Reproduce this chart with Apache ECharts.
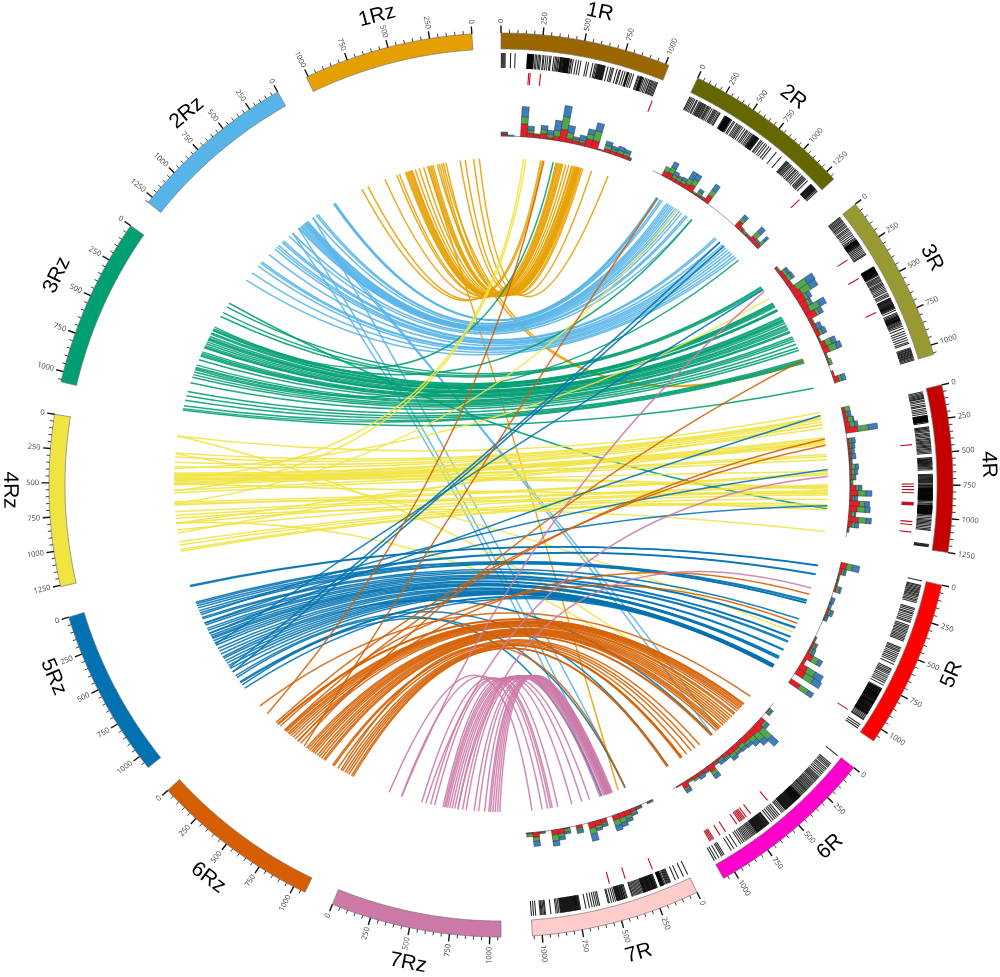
<!DOCTYPE html>
<html><head><meta charset="utf-8">
<style>html,body{margin:0;padding:0;background:#fff}#c{width:1000px;height:977px}</style>
<script src="https://cdn.jsdelivr.net/npm/echarts@6/dist/echarts.min.js"></script>
</head><body><div id="c"></div>
<script>
// ---------- data ----------
const sectorNames = ['1R','2R','3R','4R','5R','6R','7R','1Rz','2Rz','3Rz','4Rz','5Rz','6Rz','7Rz'];
const sectorLengths = [1020,1330,1060,1250,1090,1080,1060,1010,1300,1065,1260,1090,1080,1070];
const tickLabels = [0,250,500,750,1000,1250];

const bar1 = [2,8,14,20,26,60,88,165,170,174,178,183,188,192,198,204,214,222,232,240,248,262,268,280,292,305,312,330,340,348,356,362,370,376,384,392,398,404,410,416,422,428,436,442,452,470,485,500,535,548,575,590,598,606,614,622,630,638,646,654,672,690,700,708,730,745,752,768,782,796,803,815,825,838,866,872,880,888,894,905,915,925,935,945,950,958,965,972,980,988,995];
const bar2 = [10,20,30,42,55,70,78,95,105,113,120,128,135,145,152,160,172,180,188,200,215,230,240,248,258,270,282,290,335,342,348,354,360,366,372,378,385,392,400,418,430,450,462,475,485,495,510,530,548,560,575,590,600,612,624,634,642,650,658,668,690,700,715,735,752,775,795,850,905,960,968,976,985,995,1005,1015,1030,1045,1060,1070,1085,1100,1115,1135,1145,1155,1165,1175,1195,1235,1245,1255,1262,1270,1280,1290,1300,1312];
const bar3 = [5,12,20,28,36,45,55,62,72,80,92,100,110,122,132,145,158,170,178,185,190,196,202,208,214,222,232,242,252,262,272,282,292,300,395,400,405,410,416,422,428,434,440,446,452,458,468,476,484,492,500,510,518,526,535,545,555,565,575,590,600,610,625,632,640,650,660,668,675,682,690,700,712,730,738,746,752,760,768,774,780,788,795,802,808,815,825,840,860,875,890,905,920,935,945,975,982,988,994,1000,1006,1012,1018,1024,1030,1036,1042,1050,1058];
const bar4 = [20,30,40,48,56,64,72,85,95,110,125,135,150,162,175,190,205,212,218,224,230,236,242,248,254,262,296,304,312,322,332,344,352,362,372,384,392,402,410,418,426,436,444,452,462,470,480,490,500,535,542,548,554,560,566,572,578,586,594,602,612,620,630,665,672,678,684,690,698,704,712,720,728,738,746,752,758,764,770,776,782,788,794,800,808,814,820,826,832,838,844,850,856,862,870,880,890,898,906,912,918,924,930,936,942,948,954,960,966,972,980,990,1002,1014,1024,1034,1044,1054,1066,1078,1090,1100,1210,1216,1222,1228];
const bar5 = [2,32,40,48,56,64,72,80,88,96,104,112,122,132,142,152,192,200,212,224,232,244,256,268,280,290,312,322,332,342,352,362,372,382,392,402,412,422,470,480,490,500,512,524,536,548,560,572,590,625,635,645,655,665,678,690,702,714,728,745,770,776,782,788,794,800,808,814,820,826,832,838,844,850,858,866,874,880,886,892,900,908,916,922,928,936,944,952,958,964,972,980,988,996,1004,1010,1050,1064,1078];
const bar6 = [5,75,85,95,105,118,128,140,152,165,178,190,198,206,214,222,230,240,250,258,266,274,282,290,298,306,312,318,326,334,342,350,358,366,372,378,384,390,396,402,408,414,420,428,436,444,452,460,468,476,484,492,500,510,520,530,552,565,578,590,605,620,640,650,660,668,676,684,692,700,708,716,724,732,740,748,756,764,772,780,790,800,810,820,830,842,856,870,900,925,945,1000,1010,1020,1040,1060,1075];
const bar7 = [5,35,69,92,126,132,138,144,150,156,165,172,178,184,190,195,218,224,232,240,246,254,262,270,276,284,292,300,306,314,322,330,338,346,354,362,370,378,386,391,425,432,440,448,456,462,470,478,486,494,504,516,530,545,552,610,620,632,645,660,678,701,736,742,750,758,764,772,780,788,796,804,812,820,828,836,844,852,860,868,878,888,897,931,966,972,980,988,994,1000,1030,1044,1058];
// extra lines inside the darkest stretches of each barcode
const dark1 = [167,172,176,181,185,190,195,201,373,380,387,395,401,407,413,419,425,610,618,626,634,642,650,798,805,884,891,898];
const dark2 = [345,351,357,363,369,375,381,388,618,628,638,645,654,662,1240,1250,1260,1275,1285];
const dark3 = [190,193,199,205,211,217,225,398,403,408,413,419,425,431,437,443,449,628,636,645,655,664,672,678,686,694,755,763,772,778,784];
const dark4 = [208,215,221,227,233,239,245,251,773,779,785,791,797,803,811,817,823,829,835,841,847,853,859,866,910,915,921,927,933,939,945,951,957,963,969,975];
const dark5 = [780,785,790,797,803,810,817,823,829,835,841,847,854,861,869,877,883,889,896,904,912,919,925,932,940,948,955,961,968];
const dark6 = [368,375,381,387,393,399,405,411,417,424,432,440,448,456,464,472,480,488,496,645,655,664,672,680,688,696,704,712,720,728,736];
const dark7 = [175,181,187,193,228,236,243,250,258,266,273,280,288,296,303,310,440,452,466,474,482,490,745,754,761,768,776,784,792,800,808,816,824,832,840,848,856,864];

const red1 = [180,190,257,1005];
const red2 = [1262];
const red3 = [265,412,672];
const red4 = [420,740,760,785,810,890,895,900,905,910,1045,1070,1130];
const red5 = [1010];
const red6 = [550,698,735,750,760,770,780,790,817,910,955,1005,1015,1025,1035];
const red7 = [205,400,512];

// per 50-unit bin: [red, green, blue]
const hist1 = [[2,1,1],[0,0,1],[0,0,0],[13,7,10],[4,3,4],[3,1,0],[5,4,4],[2,3,4],[4,6,10],[12,13,11],[4,6,7],[3,2,2],[3,2,5],[8,5,5],[8,10,8],[1,0,0],[3,4,4],[3,2,3],[3,3,4],[3,3,3],[1,1,1]];
const hist2 = [[0,0,0],[0,0,0],[5,5,0],[6,6,6],[3,3,4],[3,3,2],[3,3,3],[5,6,8],[7,6,6],[1,1,0],[2,3,3],[1,1,1],[8,6,7],[0,0,0],[0,0,0],[0,0,0],[0,0,0],[0,0,0],[0,0,0],[0,0,0],[7,4,4],[3,1,0],[1,2,0],[2,1,0],[5,7,6],[3,1,2],[4,6,5]];
const hist3 = [[2,1,0],[4,3,3],[4,4,3],[4,1,0],[6,12,9],[8,10,8],[8,3,4],[7,3,2],[6,11,7],[10,3,4],[3,1,0],[3,1,5],[4,3,4],[1,1,0],[5,6,5],[6,8,5],[1,1,0],[1,3,0],[0,0,0],[2,0,0],[5,3,4]];
const hist4 = [[3,5,0],[3,2,3],[4,5,1],[5,5,3],[12,11,9],[0,0,0],[2,2,4],[2,2,3],[2,1,3],[2,1,4],[1,1,1],[2,4,3],[2,3,3],[2,2,2],[1,2,0],[6,3,3],[8,8,6],[3,2,3],[10,5,5],[8,8,5],[3,3,1],[10,8,5],[4,3,4],[1,1,0],[0,0,0]];
const hist5 = [[6,6,7],[3,2,2],[1,1,0],[1,1,0],[2,3,2],[0,0,0],[0,1,3],[0,1,2],[2,2,3],[1,1,2],[0,0,0],[0,0,0],[0,0,0],[1,1,0],[2,2,2],[2,2,3],[7,7,4],[3,0,0],[8,9,9],[9,10,9],[0,0,0],[11,10,6]];
const hist6 = [[0,0,0],[1,2,2],[0,0,0],[5,3,3],[8,12,9],[7,8,6],[6,5,5],[6,3,3],[4,4,3],[5,3,2],[5,4,3],[3,1,3],[2,2,3],[2,1,1],[7,4,4],[3,1,1],[3,1,3],[3,2,0],[2,1,0],[6,2,3],[1,0,0]];
const hist7 = [[1,1,0],[0,0,0],[1,1,1],[3,2,2],[5,3,3],[5,5,4],[5,6,5],[0,0,0],[4,2,2],[5,3,2],[6,6,7],[0,0,0],[3,2,3],[0,0,0],[1,3,2],[5,3,3],[5,6,5],[0,0,0],[1,1,0],[5,4,5],[1,3,0]];

// links: [position on nR, position on nRz]
const links1 = [[327,996],[340,941],[455,792],[462,690],[468,667],[480,616],[491,605],[500,595],[510,585],[535,575],[560,565],[585,560],[590,533],[604,500],[612,463],[620,422],[627,410],[630,398],[636,385],[642,333],[648,315],[655,278],[665,162],[678,120],[753,51],[894,5]];
const links2 = [[160,54],[170,62],[180,72],[210,270],[230,290],[290,335],[310,400],[330,415],[350,430],[370,445],[395,460],[420,475],[450,490],[480,505],[530,520],[550,600],[610,647],[930,725],[950,745],[1000,796],[1040,820],[1065,850],[1090,934],[1120,1042],[1150,1060],[1180,1100],[1213,1197],[1240,1293]];
const links3 = [[54,98],[65,156],[78,195],[226,317],[235,330],[245,356],[255,368],[265,390],[294,406],[305,425],[368,442],[380,459],[395,477],[412,498],[430,536],[450,552],[476,576],[490,610],[510,659],[564,689],[580,722],[600,746],[633,770],[667,819],[690,898],[775,937],[785,976],[795,1024],[810,1050],[1040,1062],[300,415],[460,565],[520,680],[400,490]];
const links4 = [[0,23],[46,195],[60,235],[75,286],[100,332],[128,395],[163,410],[262,425],[280,440],[300,455],[320,470],[337,485],[436,500],[455,515],[488,567],[610,595],[625,687],[640,716],[744,785],[760,820],[775,410],[790,460],[805,899],[820,968],[835,500],[849,1088],[897,1122],[950,1168],[970,1185],[1000,700],[1225,850],[300,900],[128,1000]];
const links5 = [[70,45],[75,55],[150,201],[155,215],[392,235],[400,255],[417,281],[420,301],[573,347],[653,360],[660,402],[744,420],[750,452],[789,470],[800,500],[874,523],[880,540],[945,553],[950,575],[960,598],[965,620],[1030,653],[1035,680],[1040,709],[1045,754],[1050,780],[1052,804],[1055,830],[1055,860],[1040,894],[1035,1005],[1048,1015],[1055,1075]];
const links6 = [[79,0],[163,218],[170,225],[185,307],[200,320],[213,340],[230,356],[250,375],[277,396],[290,420],[317,450],[340,545],[360,560],[381,580],[400,599],[421,615],[450,634],[465,660],[480,680],[500,703],[550,725],[560,738],[688,817],[738,830],[777,870],[827,916],[876,940],[890,980],[1020,1005],[1030,1020],[880,960]];
const links7 = [[990,93],[902,205],[854,385],[830,463],[815,498],[766,571],[644,585],[556,595],[488,610],[395,629],[376,650],[360,673],[350,700],[340,740],[335,771],[330,840],[325,878],[320,930],[315,966],[310,980],[305,1000],[300,1020],[290,1040],[283,1060]];
// links between different chromosomes: [R number, position, Rz number, position]
const crossLinks = [[7,230,1,430],[3,800,1,350],[3,790,1,300],
 [6,550,2,400],[6,480,2,430],[7,166,2,330],[7,300,2,520],[7,380,2,600],
 [1,430,3,300],[2,610,3,330],[2,1280,3,700],[4,990,3,60],
 [1,185,4,440],[1,205,4,570],[2,420,4,700],[3,176,4,350],[5,700,4,200],[6,340,4,20],[6,420,4,900],
 [2,1000,5,850],[2,1060,5,900],[3,85,5,610],[4,30,5,500],[4,590,5,320],[4,960,5,400],[6,550,5,740],[6,1020,5,940],[7,380,5,960],[7,166,5,1040],
 [1,353,6,94],[2,170,6,520],[3,780,6,480],[4,275,6,300],[4,340,6,200],[5,337,6,450],[5,613,6,250],[7,166,6,900],
 [5,280,7,700],[4,660,7,420],[3,100,7,205]];

// ---------- layout and style ----------
const CX = 501, CY = 485;
const arcStart = [0,25.8,51.6,77.2,102.8,128.7,154.3,356.3,330.4,305,279,253,227.5,201.9];
const arcEnd   = [21.8,47.4,73.2,98.6,124.5,150.5,176,334.5,308.7,283.2,257,231.3,205.7,180];
const bandColors = ['#996600','#666600','#999933','#c40000','#ff0000','#ff00cc','#ffcccc','#E69F00','#56B4E9','#009E73','#F0E442','#0072B2','#D55E00','#CC79A7'];
const labelPlace = [[483,11.8],[485.6,37],[487,62.2],[488,87.6],[489,112.8],[489,137.7],[488,163.6],[485,345.2],[487,319.8],[491,295.3],[491,269.4],[487,246.8],[490,216.7],[487,191]];
const linkBend = [60,45,35,10,35,40,65];
const stackColors = ['#ed1c24','#4fa84f','#3a7fbf'];
const R_OUT=452,R_IN=436,BAR_A=417,BAR_B=432,MARK_A=401,MARK_B=413,HIST_BASE=349,LINK_R=327;

const ang = (s,p) => arcStart[s] + (arcEnd[s]-arcStart[s])*p/sectorLengths[s];
const sweep = (api,r,a0,a1,step) => {
  const n = Math.max(1,Math.ceil(Math.abs(a1-a0)/(step||0.25))), pts=[];
  for(let i=0;i<=n;i++) pts.push(api.coord([r,a0+(a1-a0)*i/n]));
  return pts;
};
const layer = (rows,draw) => ({type:'custom',coordinateSystem:'polar',silent:true,animation:false,progressive:0,clip:false,
  data:rows,renderItem:(p,api)=>draw(rows[p.dataIndex],api)});

// ---------- rows built from the data ----------
const barLists=[bar1,bar2,bar3,bar4,bar5,bar6,bar7], darkLists=[dark1,dark2,dark3,dark4,dark5,dark6,dark7], redLists=[red1,red2,red3,red4,red5,red6,red7];
const histLists=[hist1,hist2,hist3,hist4,hist5,hist6,hist7], linkLists=[links1,links2,links3,links4,links5,links6,links7];
const sectorRows = sectorNames.map((_,s)=>[s,sectorLengths[s]]);
const barRows=[], redRows=[], histRows=[], linkRows=[], tickRows=[];
barLists.forEach((l,s)=>l.concat(darkLists[s]).forEach(p=>barRows.push([s,p])));
redLists.forEach((l,s)=>l.forEach(p=>redRows.push([s,p])));
histLists.forEach((l,s)=>l.forEach((v,b)=>{let from=0;v.forEach((n,k)=>{if(n>0){histRows.push([s,b*50,from,from+n,k]);from+=n;}});}));
linkLists.forEach((l,g)=>{
  l.forEach(([a,b])=>linkRows.push([g,a,g+7,b,g,linkBend[g]]));
  crossLinks.filter(c=>c[2]===g+1).forEach(c=>linkRows.push([c[0]-1,c[1],c[2]+6,c[3],g,28]));
});
sectorNames.forEach((_,s)=>{for(let p=0;p<=sectorLengths[s];p+=50)tickRows.push([s,p]);});
const labelRows = [];
sectorNames.forEach((_,s)=>tickLabels.filter(t=>t<=sectorLengths[s]).forEach(t=>labelRows.push([s,t])));

// ---------- drawing ----------
const option = {
  animation:false, backgroundColor:'#fff',
  polar:{center:[CX,CY],radius:[0,500]},
  angleAxis:{type:'value',min:0,max:360,startAngle:90,clockwise:true,show:false},
  radiusAxis:{type:'value',min:0,max:500,show:false},
  series:[
    // links
    layer(linkRows,(d,api)=>{
      const a=ang(d[0],d[1]), b=ang(d[2],d[3]);
      let diff=((b-a+540)%360)-180, mid=a+diff/2;
      mid=(mid+360)%360;
      const p=api.coord([LINK_R,(a+360)%360]), q=api.coord([LINK_R,(b+360)%360]), c=api.coord([d[5],mid]);
      return {type:'bezierCurve',shape:{x1:p[0],y1:p[1],x2:q[0],y2:q[1],cpx1:c[0],cpy1:c[1]},
        style:{stroke:bandColors[d[4]+7],lineWidth:1.5,fill:null,opacity:0.88}};
    }),
    // histogram baselines
    layer(sectorRows.slice(0,7),(d,api)=>({type:'polyline',shape:{points:sweep(api,HIST_BASE,ang(d[0],0),ang(d[0],d[1]))},
      style:{stroke:'#666',lineWidth:0.7,fill:null}})),
    // histogram stacks
    layer(histRows,(d,api)=>{
      const a0=ang(d[0],d[1]), a1=Math.min(ang(d[0],d[1]+50),arcEnd[d[0]]);
      const pts=sweep(api,HIST_BASE+d[2],a0,a1,0.3).concat(sweep(api,HIST_BASE+d[3],a1,a0,0.3));
      return {type:'polygon',shape:{points:pts},style:{fill:stackColors[d[4]],stroke:'#333',lineWidth:0.5}};
    }),
    // marks
    layer(redRows,(d,api)=>{
      const a=ang(d[0],d[1]),p=api.coord([MARK_A,a]),q=api.coord([MARK_B,a]);
      return {type:'line',shape:{x1:p[0],y1:p[1],x2:q[0],y2:q[1]},style:{stroke:'#c00d1e',lineWidth:1.1}};
    }),
    // barcode
    layer(barRows,(d,api)=>{
      const a=ang(d[0],d[1]),p=api.coord([BAR_A,a]),q=api.coord([BAR_B,a]);
      return {type:'line',shape:{x1:p[0],y1:p[1],x2:q[0],y2:q[1]},style:{stroke:'#000',lineWidth:1.05,opacity:0.85}};
    }),
    // bands
    layer(sectorRows,(d,api)=>{
      const a0=arcStart[d[0]],a1=arcEnd[d[0]];
      return {type:'polygon',shape:{points:sweep(api,R_OUT,a0,a1).concat(sweep(api,R_IN,a1,a0))},
        style:{fill:bandColors[d[0]],stroke:'#777',lineWidth:0.7}};
    }),
    // ticks
    layer(tickRows,(d,api)=>{
      const major=d[1]%250===0,a=ang(d[0],d[1]),p=api.coord([R_OUT,a]),q=api.coord([R_OUT+(major?7.5:3.5),a]);
      return {type:'line',shape:{x1:p[0],y1:p[1],x2:q[0],y2:q[1]},style:{stroke:'#111',lineWidth:major?1.4:0.8}};
    }),
    // tick labels
    layer(labelRows,(d,api)=>{
      const a=ang(d[0],d[1]),p=api.coord([R_OUT+10,a]),right=a<180;
      return {type:'text',x:p[0],y:p[1],rotation:(right?90-a:270-a)*Math.PI/180,
        style:{text:String(d[1]),fontSize:7.5,fontFamily:'Open Sans',fill:'#444',align:right?'left':'right',verticalAlign:'middle'}};
    }),
    // sector names
    layer(sectorRows,(d,api)=>{
      const [r,a]=labelPlace[d[0]],p=api.coord([r,a]);
      const rot=(a<90?-a:(a<270?180-a:360-a));
      return {type:'text',x:p[0],y:p[1],rotation:rot*Math.PI/180,
        style:{text:sectorNames[d[0]],fontSize:21,fontFamily:'Liberation Sans',fill:'#000',align:'center',verticalAlign:'middle'}};
    })
  ]
};
echarts.init(document.getElementById('c'),null,{renderer:'canvas'}).setOption(option);
</script></body></html>
